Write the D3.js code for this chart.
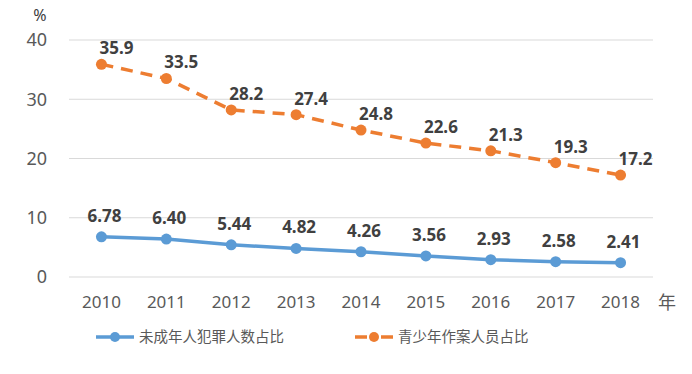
<!DOCTYPE html>
<html>
<head>
<meta charset="utf-8">
<script src="https://d3js.org/d3.v7.min.js"></script>
<style>
body { margin: 0; background: #fff; }
svg { display: block; font-family: "Noto Sans", "Noto Sans CJK SC", sans-serif; }
</style>
</head>
<body>
<svg width="692" height="374"></svg>
<script>
var years = ["2010","2011","2012","2013","2014","2015","2016","2017","2018"];
var minorRate = [6.78, 6.40, 5.44, 4.82, 4.26, 3.56, 2.93, 2.58, 2.41];
var youthRate = [35.9, 33.5, 28.2, 27.4, 24.8, 22.6, 21.3, 19.3, 17.2];
var yTicks = [0, 10, 20, 30, 40];
var seriesNames = ["未成年人犯罪人数占比", "青少年作案人员占比"];

var svg = d3.select("svg");
var plotLeft = 69, plotRight = 653, plotTop = 40, plotBottom = 277;

var x = d3.scaleBand().domain(years).range([plotLeft, plotRight]);
var y = d3.scaleLinear().domain([0, 40]).range([plotBottom, plotTop]);

// grid
svg.append("g").selectAll("line").data(yTicks).enter().append("line")
  .attr("x1", plotLeft).attr("x2", plotRight)
  .attr("y1", function(d){ return y(d); }).attr("y2", function(d){ return y(d); })
  .attr("stroke", "#d9d9d9").attr("stroke-width", 1);

// y labels
svg.append("g").selectAll("text").data(yTicks).enter().append("text")
  .attr("x", 47).attr("y", function(d){ return y(d); })
  .attr("dy", "0.35em").attr("text-anchor", "end")
  .attr("font-size", 18).attr("fill", "#595959")
  .text(function(d){ return d; });

svg.append("text").attr("x", 40).attr("y", 21).attr("text-anchor", "middle")
  .attr("font-size", 16).attr("fill", "#404040").text("%");

// x labels
svg.append("g").selectAll("text").data(years).enter().append("text")
  .attr("x", function(d){ return x(d) + x.bandwidth()/2; }).attr("y", 308)
  .attr("text-anchor", "middle").attr("font-size", 17).attr("fill", "#595959")
  .text(function(d){ return d; });
svg.append("text").attr("x", 667).attr("y", 309).attr("text-anchor", "middle")
  .attr("font-size", 18).attr("fill", "#595959")
  .attr("font-family", "Noto Sans CJK SC").text("年");

function cx(i){ return x(years[i]) + x.bandwidth()/2; }

var line = d3.line().x(function(d, i){ return cx(i); }).y(function(d){ return y(d); });

function drawSeries(data, color, dash, dx, dyLabel, fmt){
  svg.append("path").datum(data).attr("d", line)
    .attr("fill", "none").attr("stroke", color).attr("stroke-width", 3.5)
    .attr("stroke-dasharray", dash);
  svg.append("g").selectAll("circle").data(data).enter().append("circle")
    .attr("cx", function(d, i){ return cx(i); }).attr("cy", function(d){ return y(d); })
    .attr("r", 5.5).attr("fill", color);
  svg.append("g").selectAll("text").data(data).enter().append("text")
    .attr("x", function(d, i){ return cx(i) + dx; })
    .attr("y", function(d){ return y(d) - dyLabel; })
    .attr("dy", "0.35em").attr("text-anchor", "middle")
    .attr("font-size", 17).attr("font-weight", "bold").attr("fill", "#404040")
    .text(function(d){ return d.toFixed(fmt); });
}

drawSeries(youthRate, "#ed7d31", "12,8", 15, 16, 1);
drawSeries(minorRate, "#5b9bd5", null, 3, 21, 2);

// legend
var legend = [
  {name: seriesNames[0], color: "#5b9bd5", x: 96, dash: null},
  {name: seriesNames[1], color: "#ed7d31", x: 355, dash: "12,14,12"}
];
legend.forEach(function(l){
  var g = svg.append("g");
  g.append("line").attr("x1", l.x).attr("x2", l.x + 38).attr("y1", 337).attr("y2", 337)
    .attr("stroke", l.color).attr("stroke-width", 3.5).attr("stroke-dasharray", l.dash);
  g.append("circle").attr("cx", l.x + 19).attr("cy", 337).attr("r", 5).attr("fill", l.color);
  g.append("text").attr("x", l.x + 43).attr("y", 337).attr("dy", "0.35em")
    .attr("font-size", 14.5).attr("fill", "#595959")
    .attr("font-family", "Noto Sans CJK SC").text(l.name);
});
</script>
</body>
</html>
